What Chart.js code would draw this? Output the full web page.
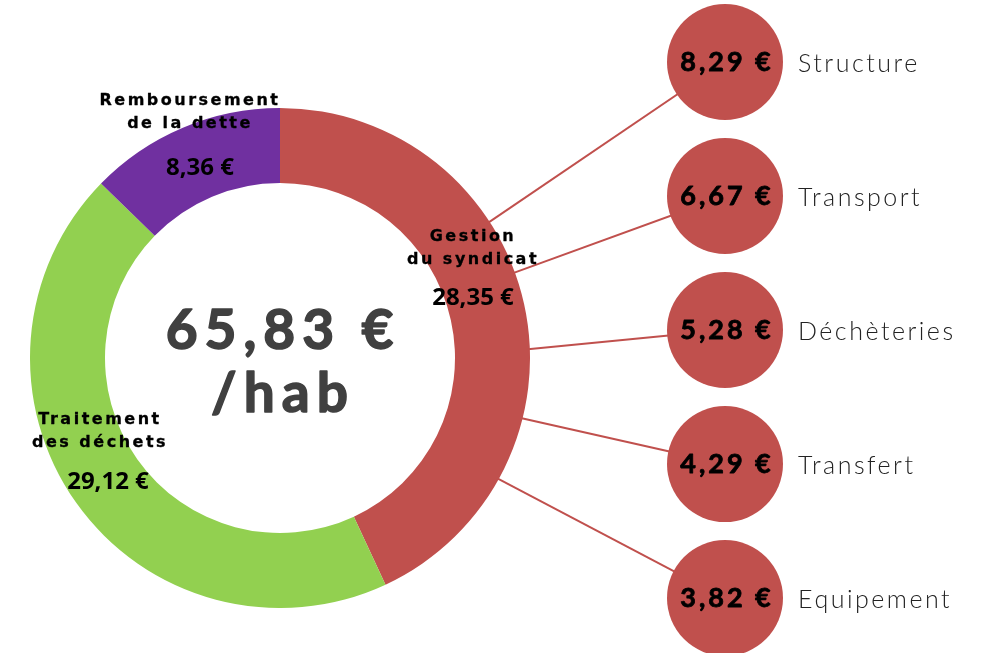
<!DOCTYPE html>
<html lang="fr">
<head>
<meta charset="UTF-8">
<title>Coût par habitant</title>
<script src="https://cdn.jsdelivr.net/npm/chart.js"></script>
<style>
    body { margin: 0; background: #fff; }
    .wrap { position: relative; width: 985px; height: 653px; }
    #donut { position: absolute; left: 30px; top: 108px; }
    #detail { position: absolute; left: 0; top: 0; }
</style>
</head>
<body>
<div class="wrap">
    <canvas id="donut" width="500" height="500"></canvas>
    <canvas id="detail" width="985" height="653"></canvas>
</div>
<script>
// données
const categories = ['Gestion\ndu syndicat', 'Traitement\ndes déchets', 'Remboursement\nde la dette'];
const values = [28.35, 29.12, 8.36];
const colors = ['#C0504D', '#92D050', '#7030A0'];
const total = 65.83;
const details = ['Structure', 'Transport', 'Déchèteries', 'Transfert', 'Equipement'];
const detailValues = [8.29, 6.67, 5.28, 4.29, 3.82];

// mise en page (décalages des étiquettes / départ des traits)
const labelOffsets = [[193, -121], [-180, 62], [-90, -257]];
const valueOffsets = [[193, -60], [-172, 124], [-80, -190]];
const spokeAngles = [-33, -20, -2, 14, 29];

const euro = v => v.toFixed(2).replace('.', ',') + ' €';

const donut = new Chart(document.getElementById('donut'), {
    type: 'doughnut',
    data: {
        labels: categories,
        datasets: [{ data: values, backgroundColor: colors, borderWidth: 0 }]
    },
    options: {
        responsive: false,
        animation: false,
        cutout: '70%',
        layout: { padding: 0 },
        plugins: { legend: { display: false }, tooltip: { enabled: false } },
        events: []
    }
});

function donutCenter() {
    const arc = donut.getDatasetMeta(0).data[0];
    const c = donut.canvas;
    return { x: c.offsetLeft + arc.x, y: c.offsetTop + arc.y, r: arc.outerRadius };
}

// texte un peu plus gras : remplissage + contour de la même couleur
function heavyText(ctx, txt, x, y, w) {
    ctx.fillText(txt, x, y);
    if (w) {
        ctx.lineWidth = w;
        ctx.strokeStyle = ctx.fillStyle;
        ctx.strokeText(txt, x, y);
    }
}

const overlay = {
    id: 'overlay',
    beforeDatasetsDraw(chart) {
        const ctx = chart.ctx;
        const dc = donutCenter();
        const pts = chart.getDatasetMeta(0).data;
        ctx.save();
        ctx.strokeStyle = '#C0504D';
        ctx.lineWidth = 2;
        pts.forEach((p, i) => {
            const a = spokeAngles[i] * Math.PI / 180;
            ctx.beginPath();
            ctx.moveTo(dc.x + Math.cos(a) * (dc.r - 2), dc.y + Math.sin(a) * (dc.r - 2));
            ctx.lineTo(p.x, p.y);
            ctx.stroke();
        });
        ctx.restore();
    },
    afterDatasetsDraw(chart) {
        const ctx = chart.ctx;
        const dc = donutCenter();
        const pts = chart.getDatasetMeta(0).data;
        ctx.save();
        ctx.textBaseline = 'middle';
        ctx.lineJoin = 'round';

        // valeurs dans les bulles + libellés
        pts.forEach((p, i) => {
            ctx.fillStyle = '#000';
            ctx.textAlign = 'center';
            ctx.font = 'bold 27px Lato';
            ctx.letterSpacing = '3px';
            heavyText(ctx, euro(detailValues[i]), p.x + 2, p.y, 0.8);
            ctx.fillStyle = '#222';
            ctx.textAlign = 'left';
            ctx.font = '300 25px Lato';
            ctx.letterSpacing = '2.5px';
            ctx.fillText(details[i], p.x + 73, p.y + 2);
        });

        // étiquettes de l'anneau
        categories.forEach((c, i) => {
            ctx.fillStyle = '#000';
            ctx.textAlign = 'center';
            ctx.font = 'bold 16px "DejaVu Sans"';
            ctx.letterSpacing = '2.5px';
            c.split('\n').forEach((line, k) => {
                heavyText(ctx, line, dc.x + labelOffsets[i][0], dc.y + labelOffsets[i][1] + k * 23, 0.3);
            });
            ctx.font = 'bold 24px "Open Sans"';
            ctx.letterSpacing = '0px';
            ctx.fillText(euro(values[i]), dc.x + valueOffsets[i][0], dc.y + valueOffsets[i][1]);
        });

        // total au centre
        ctx.fillStyle = '#404040';
        ctx.textAlign = 'center';
        ctx.font = 'bold 55px Lato';
        ctx.letterSpacing = '7px';
        heavyText(ctx, euro(total), dc.x + 3, dc.y - 27, 1.5);
        heavyText(ctx, '/hab', dc.x + 3, dc.y + 36, 1.5);
        ctx.restore();
    }
};

new Chart(document.getElementById('detail'), {
    type: 'bubble',
    data: {
        labels: details,
        datasets: [{
            data: detailValues.map((v, i) => ({ x: 0, y: i, r: 58 })),
            backgroundColor: '#C0504D',
            borderWidth: 0,
            clip: false
        }]
    },
    options: {
        responsive: false,
        animation: false,
        events: [],
        layout: { padding: 0, autoPadding: false },
        scales: {
            x: { display: false, min: -2.9, max: 1.04 },
            y: { display: false, reverse: true, min: -0.4627, max: 4.41 }
        },
        plugins: { legend: { display: false }, tooltip: { enabled: false } }
    },
    plugins: [overlay]
});
</script>
</body>
</html>
